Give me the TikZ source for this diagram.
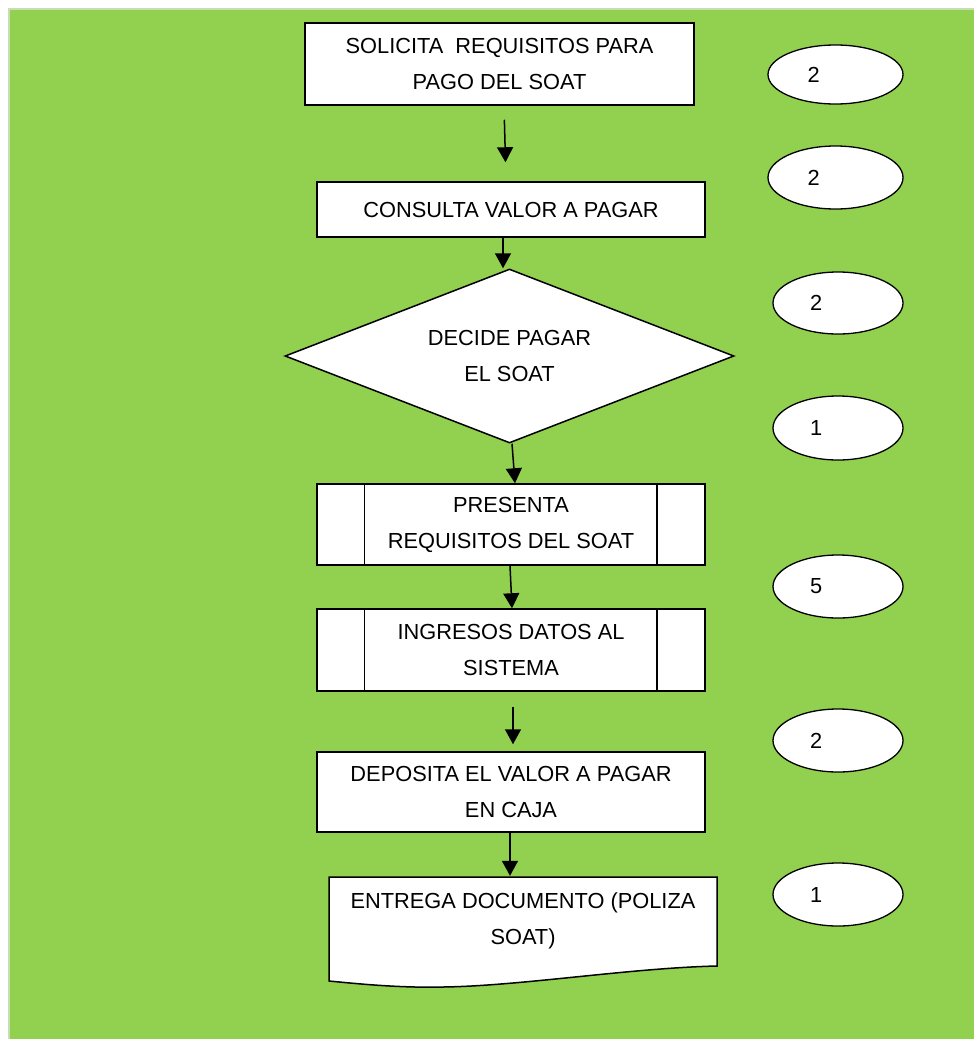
\documentclass[tikz,border=0pt]{standalone}
\usepackage{fontspec}
\setmainfont{Liberation Sans}
\usetikzlibrary{shapes.geometric,arrows.meta}
\definecolor{fondo}{HTML}{92D050}
\definecolor{borde}{HTML}{C9DDB4}

\begin{document}
\begin{tikzpicture}[x=1pt,y=-1pt]
   \tikzstyle{every node}=[font=\fontsize{21.8}{36}\selectfont, align=center]
   \tikzstyle{caja}=[draw, fill=white, line width=1.5pt, inner sep=0pt]
   \tikzstyle{flecha}=[line width=1.5pt, -{Triangle[width=16pt,length=15pt]}]
   \tikzstyle{tiempo}=[draw, ellipse, fill=white, line width=1.3pt, inner sep=0pt, text width=56pt, align=left]

\useasboundingbox (0,0) rectangle (974,1039);
\fill[white] (0,0) rectangle (974,1039);
\draw[borde, fill=fondo, line width=2pt] (9,9) rectangle (976,1041);

% pasos del proceso
\node[caja, minimum width=389, minimum height=82] (s1) at (499.5,64) {SOLICITA~ REQUISITOS PARA\\PAGO DEL SOAT};
\node[caja, minimum width=388, minimum height=55] (s2) at (511,209.5) {CONSULTA VALOR A PAGAR};
\node[caja, diamond, shape aspect=2.6, minimum width=449, minimum height=174] (d) at (509.5,356) {DECIDE PAGAR\\EL SOAT};
\node[caja, minimum width=388, minimum height=81] (p1) at (511,524.5) {PRESENTA\\REQUISITOS DEL SOAT};
\draw[line width=1.5pt] ([xshift=48pt]p1.north west) -- ([xshift=48pt]p1.south west);
\draw[line width=1.5pt] ([xshift=-49pt]p1.north east) -- ([xshift=-49pt]p1.south east);
\node[caja, minimum width=388, minimum height=82] (p2) at (511,650) {INGRESOS DATOS AL\\SISTEMA};
\draw[line width=1.5pt] ([xshift=48pt]p2.north west) -- ([xshift=48pt]p2.south west);
\draw[line width=1.5pt] ([xshift=-49pt]p2.north east) -- ([xshift=-49pt]p2.south east);
\node[caja, minimum width=388, minimum height=80] (p3) at (511,792) {DEPOSITA EL VALOR A PAGAR\\EN CAJA};

% documento
\draw[line width=1.5pt, fill=white] (329,877) -- (717,877) -- (717,966)
   .. controls (630,968) and (520,986) .. (443,987)
   .. controls (400,988) and (360,984) .. (329,981) -- cycle;
\node[minimum width=388, minimum height=90, inner sep=0pt] (doc) at (523,921) {ENTREGA DOCUMENTO (POLIZA\\SOAT)};

% flechas
\draw[flecha, shorten <=14pt, shorten >=19pt] ([xshift=4.5pt]s1.south) -- ([xshift=-5pt]s2.north);
\draw[flecha] ([xshift=-8pt]s2.south) -- ([xshift=-6.5pt]d.north);
\draw[flecha] ([xshift=2.5pt]d.south) -- ([xshift=4pt]p1.north);
\draw[flecha] ([xshift=-1pt]p1.south) -- ([xshift=1pt]p2.north);
\draw[flecha, shorten <=15pt, shorten >=7pt] ([xshift=2pt]p2.south) -- ([xshift=2pt]p3.north);
\draw[flecha] ([xshift=-1pt]p3.south) -- ([xshift=-13pt]doc.north);

% tiempos
\foreach \nombre/\x/\y/\ancho/\alto/\num in {t1/835.5/74.5/135/59/2, t2/835.5/177.5/135/63/2, t3/838/303/130/62/2, t4/838/428/130/64/1, t5/838/586.5/130/63/5, t6/838/740.5/130/63/2, t7/838/894.5/130/63/1}
   \node[tiempo, minimum width=\ancho, minimum height=\alto] (\nombre) at (\x,\y) {\num};

\end{tikzpicture}
\end{document}
